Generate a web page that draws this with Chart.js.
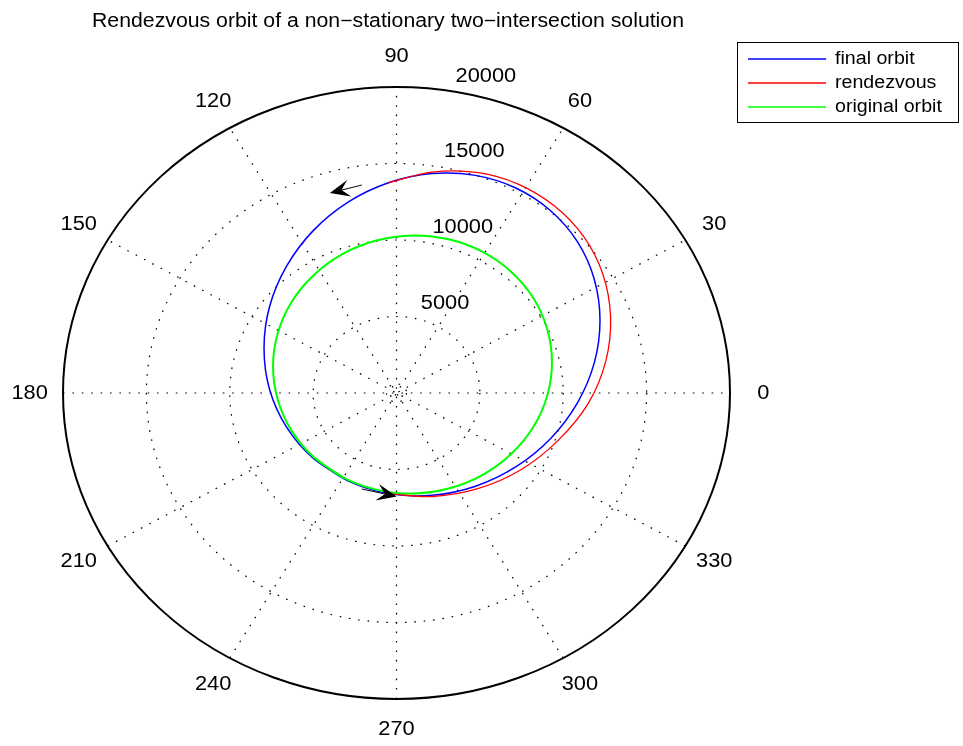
<!DOCTYPE html>
<html>
<head>
<meta charset="utf-8">
<title>Rendezvous orbit</title>
<script src="https://cdn.jsdelivr.net/npm/chart.js@4.4.1/dist/chart.umd.min.js"></script>
<style>
  html, body { margin: 0; padding: 0; background: #fff; }
  #wrap { width: 963px; height: 746px; position: relative; }
</style>
</head>
<body>
<div id="wrap"><canvas id="chart"></canvas></div>
<script>
// ---- data: angle in degrees, radius in km ----
// closed orbits start in the lower left, where blue and green overlap
const finalAngles = [220.5, 243.1, 265.8, 287.7, 307.9, 326.1, 342.3, 356.6, 9.5, 21.2, 32.1, 42.3,
                     52.2, 61.9, 71.6, 81.6, 92.0, 103.1, 115.2, 128.5, 143.4, 159.9, 178.4, 198.7];
const finalRadii = [6570, 6440, 6590, 7020, 7720, 8640, 9720, 10870, 12030, 13090, 14000, 14680,
                    15080, 15190, 14990, 14500, 13750, 12810, 11730, 10590, 9480, 8460, 7610, 6960];

const originalAngles = [220.3, 239.7, 259.2, 278.3, 296.6, 313.8, 329.9, 344.8, 358.9, 12.2, 24.9, 37.1,
                        49.1, 60.9, 72.7, 84.7, 96.9, 109.5, 122.7, 136.6, 151.3, 167.0, 183.7, 201.5];
const originalRadii = [6500, 6380, 6430, 6640, 6980, 7430, 7950, 8500, 9040, 9540, 9960, 10290,
                       10490, 10570, 10520, 10340, 10040, 9650, 9170, 8660, 8120, 7600, 7130, 6760];

// rendezvous leg only covers the right hand side, 266 deg round to 92 deg
const rendezvousAngles = [265.8, 287.7, 307.9, 326.1, 342.3, 356.6, 369.5, 381.2, 392.1, 402.3,
                          412.2, 421.9, 431.6, 441.6, 452.0];
const rendezvousRadii = [6590, 7100, 7930, 8990, 10180, 11520, 12730, 13770, 14610, 15180,
                         15460, 15480, 15190, 14590, 13750];

const seriesLabels = ['final orbit', 'rendezvous', 'original orbit'];
const seriesColors = ['#0000ff', '#ff0000', '#00ff00'];

const rMax = 20000;
const ringValues = [600, 5000, 10000, 15000];
const radiusLabels = [5000, 10000, 15000, 20000];
const spokeAngles = [0, 30, 60, 90, 120, 150];
const angleTicks = [0, 30, 60, 90, 120, 150, 180, 210, 240, 270, 300, 330];

// direction arrows, [angle, radius]: tail -> head
const arrowTails = [[98.7, 13750], [251.7, 6610]];
const arrowHeads = [[107.0, 13670], [270.1, 6765]];

const chartTitle = 'Rendezvous orbit of a non\u2212stationary two\u2212intersection solution';

// matlab export is a little wider than tall
const STRETCH = 1.09;

function toXY(deg, r) {
  const a = deg * Math.PI / 180;
  return { x: r * Math.cos(a), y: r * Math.sin(a) };
}

function toPoints(angles, radii, closed) {
  const pts = angles.map((a, i) => toXY(a, radii[i]));
  if (closed) pts.push(pts[0], pts[1]); // run past the seam so the spline stays smooth there
  return pts;
}

function stretchedText(ctx, str, x, y) {
  ctx.save();
  ctx.translate(x, y);
  ctx.scale(STRETCH, 1);
  ctx.fillText(str, 0, 0);
  ctx.restore();
}

const polarGrid = {
  id: 'polarGrid',
  beforeDatasetsDraw(chart) {
    const { ctx, scales: { x, y } } = chart;
    const cx = x.getPixelForValue(0);
    const cy = y.getPixelForValue(0);
    ctx.save();
    ctx.strokeStyle = '#000';
    ctx.lineWidth = 1.2;
    ctx.setLineDash([1.6, 7.8]);

    ringValues.forEach(r => {
      const rx = x.getPixelForValue(r) - cx;
      const ry = cy - y.getPixelForValue(r);
      ctx.beginPath();
      ctx.ellipse(cx, cy, rx, ry, 0, 0, Math.PI * 2);
      ctx.stroke();
    });

    spokeAngles.forEach(a => {
      const p = toXY(a, rMax);
      ctx.beginPath();
      ctx.moveTo(x.getPixelForValue(-p.x), y.getPixelForValue(-p.y));
      ctx.lineTo(x.getPixelForValue(p.x), y.getPixelForValue(p.y));
      ctx.stroke();
    });

    // outer solid ring
    ctx.setLineDash([]);
    ctx.lineWidth = 2;
    ctx.beginPath();
    ctx.ellipse(cx, cy, x.getPixelForValue(rMax) - cx, cy - y.getPixelForValue(rMax), 0, 0, Math.PI * 2);
    ctx.stroke();
    ctx.restore();
  }
};

const overlay = {
  id: 'overlay',
  afterDatasetsDraw(chart) {
    const { ctx, scales: { x, y } } = chart;
    const px = p => ({ x: x.getPixelForValue(p.x), y: y.getPixelForValue(p.y) });

    ctx.save();
    ctx.fillStyle = '#000';
    ctx.strokeStyle = '#000';

    // arrows
    arrowTails.forEach((t, i) => {
      const a = px(toXY(t[0], t[1]));
      const b = px(toXY(arrowHeads[i][0], arrowHeads[i][1]));
      const dx = b.x - a.x, dy = b.y - a.y;
      const len = Math.hypot(dx, dy);
      const ux = dx / len, uy = dy / len;
      const nx = -uy, ny = ux;
      const hl = 20, hw = 8.5;
      ctx.lineWidth = 1;
      ctx.beginPath();
      ctx.moveTo(a.x, a.y);
      ctx.lineTo(b.x - ux * hl * 0.5, b.y - uy * hl * 0.5);
      ctx.stroke();
      ctx.beginPath();
      ctx.moveTo(b.x, b.y);
      ctx.lineTo(b.x - ux * hl + nx * hw, b.y - uy * hl + ny * hw);
      ctx.lineTo(b.x - ux * hl * 0.6, b.y - uy * hl * 0.6);
      ctx.lineTo(b.x - ux * hl - nx * hw, b.y - uy * hl - ny * hw);
      ctx.closePath();
      ctx.fill();
    });

    // angle labels
    ctx.font = '20px "Liberation Sans", Arial, sans-serif';
    ctx.textAlign = 'center';
    ctx.textBaseline = 'middle';
    angleTicks.forEach(a => {
      const p = px(toXY(a, rMax * 1.1));
      stretchedText(ctx, String(a), p.x, p.y);
    });

    // radius labels, matlab puts them at 82 degrees
    ctx.textAlign = 'left';
    ctx.textBaseline = 'bottom';
    radiusLabels.forEach(r => {
      const p = px(toXY(82, r + 250));
      stretchedText(ctx, '  ' + r, p.x, p.y);
    });

    // title
    ctx.textAlign = 'center';
    ctx.textBaseline = 'middle';
    ctx.font = '19.5px "Liberation Sans", Arial, sans-serif';
    stretchedText(ctx, chartTitle, 388, 22);

    // legend
    const lx = 737, ly = 42, lw = 221, lh = 80;
    ctx.fillStyle = '#fff';
    ctx.fillRect(lx, ly, lw, lh);
    ctx.lineWidth = 1;
    ctx.strokeStyle = '#000';
    ctx.strokeRect(lx + 0.5, ly + 0.5, lw, lh);
    ctx.font = '18px "Liberation Sans", Arial, sans-serif';
    ctx.textAlign = 'left';
    seriesLabels.forEach((label, i) => {
      const yy = ly + 17 + i * 24;
      ctx.strokeStyle = seriesColors[i];
      ctx.lineWidth = 1.5;
      ctx.beginPath();
      ctx.moveTo(lx + 11, yy);
      ctx.lineTo(lx + 89, yy);
      ctx.stroke();
      ctx.fillStyle = '#000';
      stretchedText(ctx, label, lx + 98, yy);
    });
    ctx.restore();
  }
};

new Chart(document.getElementById('chart'), {
  type: 'scatter',
  data: {
    datasets: [
      { label: seriesLabels[0], data: toPoints(finalAngles, finalRadii, true),
        borderColor: seriesColors[0], borderWidth: 1.5, order: 3 },
      { label: seriesLabels[1], data: toPoints(rendezvousAngles, rendezvousRadii, false),
        borderColor: seriesColors[1], borderWidth: 1.3, order: 2 },
      { label: seriesLabels[2], data: toPoints(originalAngles, originalRadii, true),
        borderColor: seriesColors[2], borderWidth: 2, order: 1 }
    ].map(d => Object.assign(d, { showLine: true, pointRadius: 0, tension: 0.35, fill: false }))
  },
  options: {
    responsive: true,
    maintainAspectRatio: false,
    animation: false,
    layout: { padding: { left: 63, right: 233, top: 87, bottom: 47 } },
    scales: {
      x: { type: 'linear', min: -rMax, max: rMax, display: false },
      y: { type: 'linear', min: -rMax, max: rMax, display: false }
    },
    plugins: {
      legend: { display: false },
      title: { display: false },
      tooltip: { enabled: false }
    }
  },
  plugins: [polarGrid, overlay]
});
</script>
</body>
</html>
